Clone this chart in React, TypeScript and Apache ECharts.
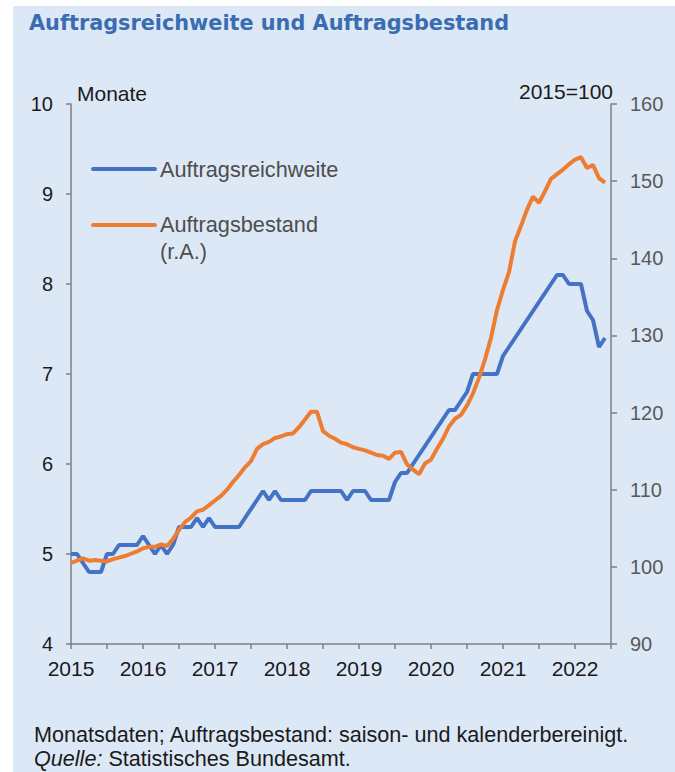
import React, { useEffect, useRef } from "react";
import * as echarts from "echarts";

const START_YEAR = 2015;
const END_X = 2022.5;
const yearLabels = ["2015", "2016", "2017", "2018", "2019", "2020", "2021", "2022"];

// Auftragsreichweite in Monaten (monthly, Jan 2015 - Jun 2022)
const reichweite = [
  5.0, 5.0, 4.9, 4.8, 4.8, 4.8, 5.0, 5.0, 5.1, 5.1, 5.1, 5.1,
  5.2, 5.1, 5.0, 5.1, 5.0, 5.1, 5.3, 5.3, 5.3, 5.4, 5.3, 5.4,
  5.3, 5.3, 5.3, 5.3, 5.3, 5.4, 5.5, 5.6, 5.7, 5.6, 5.7, 5.6,
  5.6, 5.6, 5.6, 5.6, 5.7, 5.7, 5.7, 5.7, 5.7, 5.7, 5.6, 5.7,
  5.7, 5.7, 5.6, 5.6, 5.6, 5.6, 5.8, 5.9, 5.9, 6.0, 6.1, 6.2,
  6.3, 6.4, 6.5, 6.6, 6.6, 6.7, 6.8, 7.0, 7.0, 7.0, 7.0, 7.0,
  7.2, 7.3, 7.4, 7.5, 7.6, 7.7, 7.8, 7.9, 8.0, 8.1, 8.1, 8.0,
  8.0, 8.0, 7.7, 7.6, 7.3, 7.4,
];

// Auftragsbestand, 2015=100 (monthly, Jan 2015 - Jun 2022)
const bestand = [
  100.5, 100.8, 101.1, 100.8, 100.9, 100.8, 100.7, 101.0, 101.2, 101.4, 101.7, 102.0,
  102.4, 102.6, 102.6, 102.9, 102.7, 103.6, 104.8, 105.8, 106.4, 107.2, 107.4, 108.0,
  108.6, 109.2, 110.0, 111.0, 111.9, 112.9, 113.7, 115.3, 115.9, 116.2, 116.7, 116.9,
  117.2, 117.3, 118.1, 119.1, 120.1, 120.1, 117.6, 117.0, 116.6, 116.1, 115.9, 115.5,
  115.3, 115.1, 114.8, 114.5, 114.4, 114.0, 114.8, 114.9, 113.3, 112.6, 112.0, 113.4,
  113.9, 115.3, 116.6, 118.2, 119.2, 119.7, 120.9, 122.5, 124.5, 126.9, 129.7, 133.3,
  135.9, 138.2, 142.2, 144.2, 146.3, 148.0, 147.2, 148.7, 150.3, 150.9, 151.5, 152.2,
  152.8, 153.1, 151.7, 152.1, 150.4, 149.8,
];

const FONT = "'Liberation Sans', Arial, sans-serif";
const BLUE = "#4472c4";
const ORANGE = "#ed7d31";
const AXIS = "#7f7f7f";

export default function App() {
  const ref = useRef<HTMLDivElement>(null);

  useEffect(() => {
    if (!ref.current) return;
    const chart = echarts.init(ref.current, null, { renderer: "svg" });
    const toPairs = (arr: number[]) => arr.map((v, i) => [START_YEAR + i / 12, v]);

    chart.setOption({
      animation: false,
      grid: { left: 71, right: 64, top: 104, bottom: 128, containLabel: false },
      xAxis: {
        type: "value",
        min: START_YEAR,
        max: END_X,
        interval: 0.5,
        axisLine: { show: true, lineStyle: { color: AXIS, width: 1.5 } },
        axisTick: { show: true, inside: false, length: 5, lineStyle: { color: AXIS, width: 1.5 } },
        splitLine: { show: false },
        axisLabel: {
          color: "#1a1a1a",
          fontSize: 21,
          fontFamily: FONT,
          margin: 14,
          formatter: (v: number) => {
            const s = String(v);
            return yearLabels.indexOf(s) >= 0 ? s : "";
          },
        },
      },
      yAxis: [
        {
          type: "value",
          position: "left",
          min: 4,
          max: 10,
          interval: 1,
          axisLine: { show: true, lineStyle: { color: AXIS, width: 1.5 } },
          axisTick: { show: true, inside: false, length: 5, lineStyle: { color: AXIS, width: 1.5 } },
          splitLine: { show: false },
          axisLabel: { color: "#1a1a1a", fontSize: 20, fontFamily: FONT, margin: 18 },
        },
        {
          type: "value",
          position: "right",
          min: 90,
          max: 160,
          interval: 10,
          axisLine: { show: true, lineStyle: { color: AXIS, width: 1.5 } },
          axisTick: { show: true, inside: false, length: 6, lineStyle: { color: AXIS, width: 1.5 } },
          splitLine: { show: false },
          axisLabel: { color: "#595959", fontSize: 20, fontFamily: FONT, margin: 19 },
        },
      ],
      series: [
        {
          name: "Auftragsreichweite",
          type: "line",
          yAxisIndex: 0,
          data: toPairs(reichweite),
          showSymbol: false,
          lineStyle: { color: BLUE, width: 4 },
          itemStyle: { color: BLUE },
          z: 3,
        },
        {
          name: "Auftragsbestand (r.A.)",
          type: "line",
          yAxisIndex: 1,
          data: toPairs(bestand),
          showSymbol: false,
          lineStyle: { color: ORANGE, width: 4 },
          itemStyle: { color: ORANGE },
          z: 4,
        },
      ],
      graphic: [
        {
          type: "text",
          left: 29,
          top: 12,
          style: {
            text: "Auftragsreichweite und Auftragsbestand",
            fill: "#3a6cb2",
            font: "bold 20.8px 'DejaVu Sans', sans-serif",
          },
        },
        {
          type: "text",
          x: 77,
          y: 93.5,
          style: { text: "Monate", fill: "#1a1a1a", font: `21px ${FONT}`, textVerticalAlign: "middle" },
        },
        {
          type: "text",
          x: 613,
          y: 91,
          style: { text: "2015=100", fill: "#1a1a1a", font: `21px ${FONT}`, textAlign: "right", textVerticalAlign: "middle" },
        },
        {
          type: "line",
          shape: { x1: 93, y1: 169, x2: 155, y2: 169 },
          style: { stroke: BLUE, lineWidth: 4, lineCap: "round" },
        },
        {
          type: "text",
          x: 160,
          y: 169,
          style: { text: "Auftragsreichweite", fill: "#4d4d4d", font: `21.7px ${FONT}`, textVerticalAlign: "middle" },
        },
        {
          type: "line",
          shape: { x1: 93, y1: 225, x2: 155, y2: 225 },
          style: { stroke: ORANGE, lineWidth: 4, lineCap: "round" },
        },
        {
          type: "text",
          x: 160,
          y: 224,
          style: { text: "Auftragsbestand", fill: "#4d4d4d", font: `21.7px ${FONT}`, textVerticalAlign: "middle" },
        },
        {
          type: "text",
          x: 160,
          y: 251,
          style: { text: "(r.A.)", fill: "#4d4d4d", font: `21.7px ${FONT}`, textVerticalAlign: "middle" },
        },
        {
          type: "text",
          x: 34,
          y: 734,
          style: {
            text: "Monatsdaten; Auftragsbestand: saison- und kalenderbereinigt.",
            fill: "#1a1a1a",
            font: `21.6px ${FONT}`,
            textVerticalAlign: "middle",
          },
        },
        {
          type: "text",
          x: 34,
          y: 758,
          style: {
            text: "{i|Quelle:} Statistisches Bundesamt.",
            fill: "#1a1a1a",
            font: `21.6px ${FONT}`,
            textVerticalAlign: "middle",
            rich: {
              i: { fontStyle: "italic", fontSize: 21.6, fontFamily: FONT, fill: "#1a1a1a" },
            },
          },
        },
      ],
    });

    return () => chart.dispose();
  }, []);

  return (
    <div style={{ position: "fixed", left: 0, top: 0, width: 675, height: 772, background: "#ffffff" }}>
      <div style={{ position: "absolute", left: 13, top: 6, width: 662, height: 766, background: "#dce8f6" }} />
      <div ref={ref} style={{ position: "absolute", left: 0, top: 0, width: 675, height: 772 }} />
    </div>
  );
}
